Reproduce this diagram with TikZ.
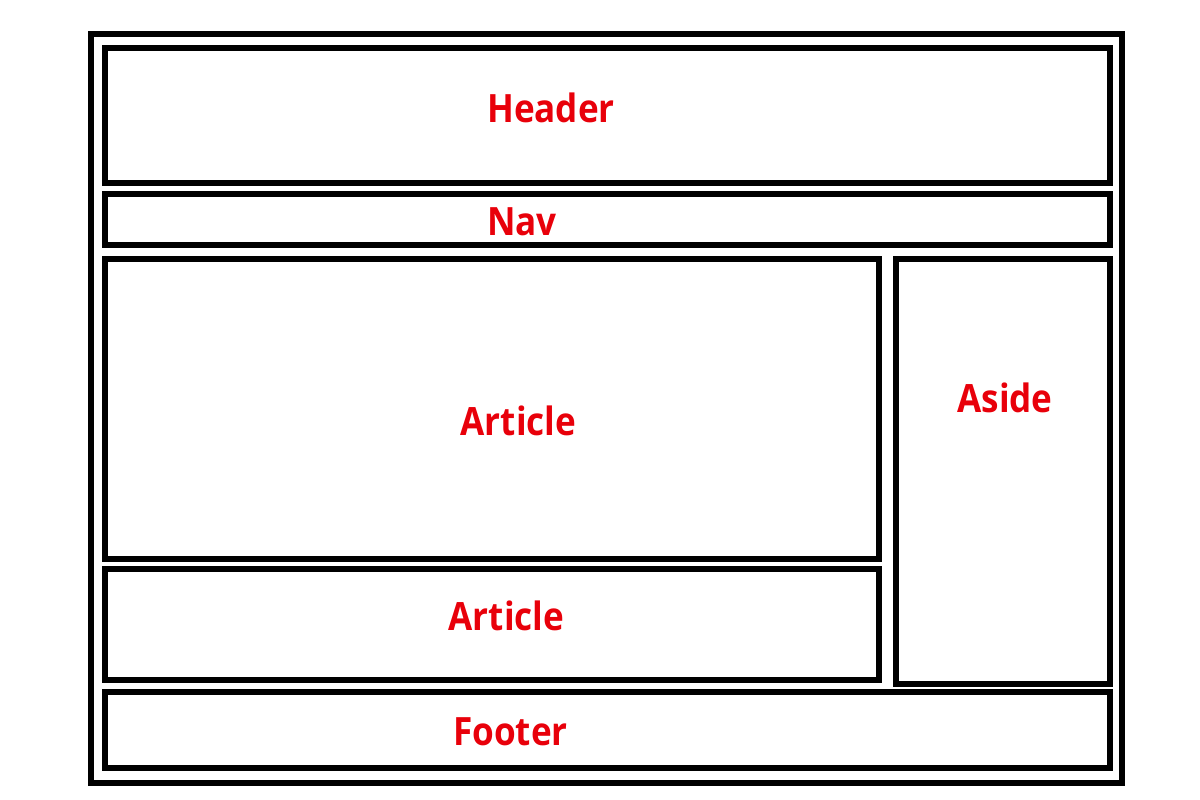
\documentclass[tikz,border=0pt]{standalone}
\usepackage{fontspec}
\setmainfont{Open Sans}[BoldFeatures={FakeStretch=0.9}]
\definecolor{lblred}{RGB}{232,0,10}
\begin{document}
\begin{tikzpicture}[x=1pt,y=-1pt,
  box/.style={draw=black,line width=6pt},
  lbl/.style={text=lblred,font=\fontsize{39}{41}\selectfont\bfseries,anchor=base,inner sep=0pt}]
\useasboundingbox (0,0) rectangle (1200,800);
\draw[box] (91,34) rectangle (1122,783);
\draw[box] (105,48) rectangle (1110,183);
\draw[box] (105,194) rectangle (1110,245);
\draw[box] (105,259) rectangle (879,559);
\draw[box] (896,259) rectangle (1110,684);
\draw[box] (105,569) rectangle (879,680);
\draw[box] (105,692) rectangle (1110,768);
\node[lbl] (header) at (551,122) {Header};
\node[lbl] (nav) at (522,235) {Nav};
\node[lbl] (article1) at (518.5,435) {Article};
\node[lbl] (aside) at (1005,412) {Aside};
\node[lbl] (article2) at (506.5,630) {Article};
\node[lbl] (footer) at (510.5,745) {Footer};
\end{tikzpicture}
\end{document}
